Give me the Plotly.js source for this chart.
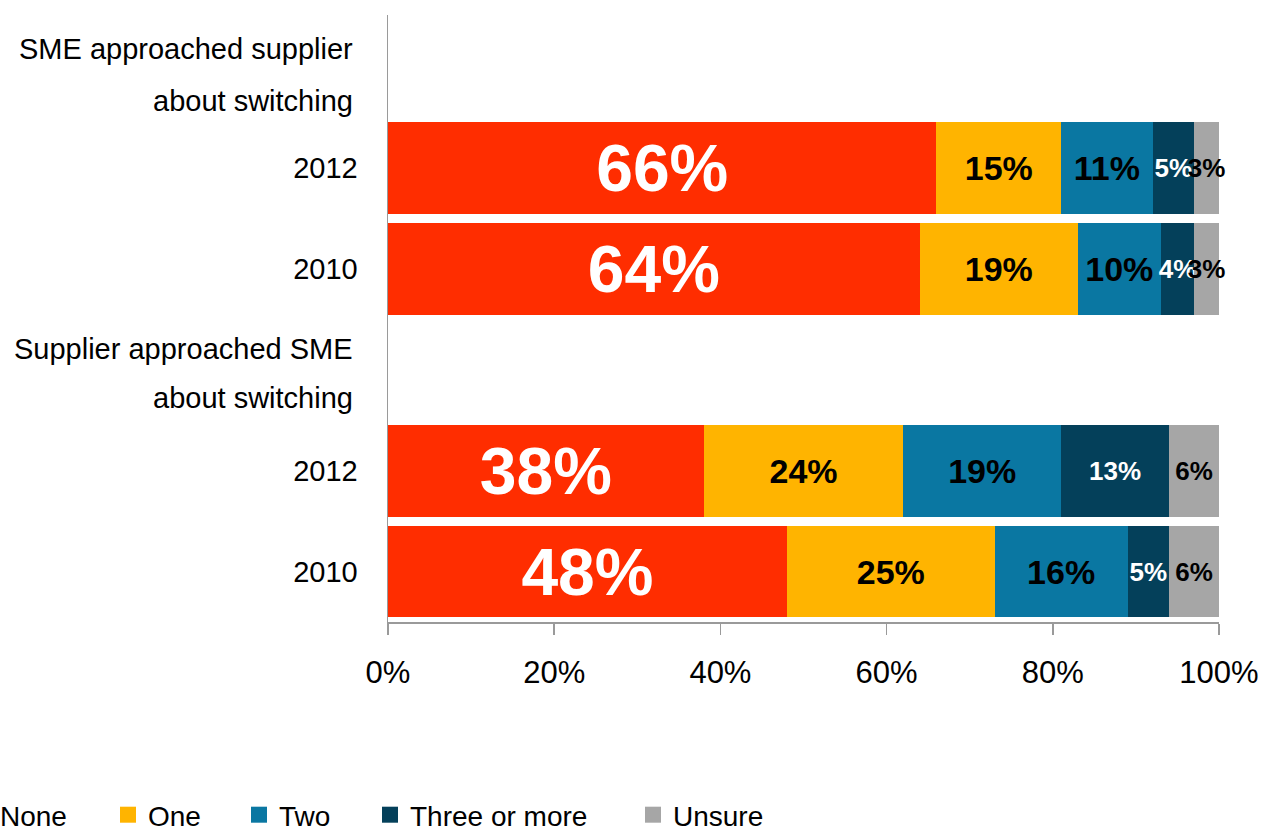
<!DOCTYPE html>
<html>
<head>
<meta charset="utf-8">
<script src="https://cdn.plot.ly/plotly-3.0.1.min.js"></script>
<style>
  html, body { margin: 0; padding: 0; background: #ffffff; }
  #chart { width: 1263px; height: 828px; }
</style>
</head>
<body>
<div id="chart"></div>
<script>
// ---- Data ----
const rowKeys = ["hdrA", "A2012", "A2010", "hdrB", "B2012", "B2010"];
const rowLabels = ["", "2012", "2010", "", "2012", "2010"];
const barRows = ["A2012", "A2010", "B2012", "B2010"];
const headerA = ["SME approached supplier", "about switching"];
const headerB = ["Supplier approached SME", "about switching"];

const seriesNames = ["None", "One", "Two", "Three or more", "Unsure"];
const noneVals   = [66, 64, 38, 48];
const oneVals    = [15, 19, 24, 25];
const twoVals    = [11, 10, 19, 16];
const threeVals  = [5, 4, 13, 5];
const unsureVals = [3, 3, 6, 6];

const xTickVals = [0, 20, 40, 60, 80, 100];
const xTickText = ["0%", "20%", "40%", "60%", "80%", "100%"];

// ---- Styles ----
const colors = ["#FF2D00", "#FFB400", "#0A77A2", "#04405A", "#A6A6A6"];
const labelColors = ["#ffffff", "#000000", "#000000", "#ffffff", "#000000"];
const labelSizes = [66, 34, 34, 26, 26];
const labelFont = "'Liberation Sans', Arial, sans-serif";
const allVals = [noneVals, oneVals, twoVals, threeVals, unsureVals];
const legendTextX = [0, 148, 279, 410, 673];

const plotLeft = 388, plotRight = 1219, plotTop = 15, plotBottom = 622;
const plotW = plotRight - plotLeft, plotH = plotBottom - plotTop;

const legendKey = i => (i === 0 ? "legend" : "legend" + (i + 1));

const barTraces = seriesNames.map((name, i) => ({
  type: "bar",
  orientation: "h",
  name: name,
  y: barRows,
  x: allVals[i],
  text: allVals[i].map(v => v + "%"),
  textposition: "inside",
  insidetextanchor: "middle",
  textangle: 0,
  constraintext: "none",
  cliponaxis: false,
  textfont: { family: labelFont, size: labelSizes[i], color: labelColors[i], weight: "bold" },
  marker: { color: colors[i], line: { width: 0 } },
  hoverinfo: "skip",
  showlegend: false,
  legendgroup: name
}));

// legend entries (square swatches, no plotted marks)
const legendTraces = seriesNames.map((name, i) => ({
  type: "scatter",
  mode: "markers",
  name: name,
  x: [null],
  y: [null],
  marker: { symbol: "square", size: 16, color: colors[i], line: { width: 0 } },
  hoverinfo: "skip",
  showlegend: true,
  legendgroup: name,
  legend: legendKey(i)
}));

const layout = {
  width: 1263,
  height: 828,
  margin: { l: plotLeft, r: 1263 - plotRight, t: plotTop, b: 828 - plotBottom, pad: 0, autoexpand: false },
  paper_bgcolor: "#ffffff",
  plot_bgcolor: "#ffffff",
  barmode: "stack",
  bargap: 0.09,
  font: { family: "'Liberation Sans', Arial, sans-serif", color: "#000000" },
  xaxis: {
    range: [0, 100],
    tickvals: xTickVals,
    ticktext: xTickText,
    ticks: "outside",
    ticklen: 11,
    tickcolor: "#9a9a9a",
    tickwidth: 1.5,
    showline: true,
    linecolor: "#9a9a9a",
    linewidth: 1.5,
    showgrid: false,
    zeroline: false,
    ticklabelstandoff: 11,
    automargin: false,
    tickfont: { size: 31, family: "'Liberation Sans', Arial, sans-serif", color: "#000000" },
    fixedrange: true
  },
  yaxis: {
    type: "category",
    categoryorder: "array",
    categoryarray: rowKeys,
    tickvals: rowKeys,
    ticktext: rowLabels,
    autorange: "reversed",
    showline: true,
    linecolor: "#9a9a9a",
    linewidth: 1.5,
    showgrid: false,
    zeroline: false,
    ticks: "",
    ticklabelstandoff: 23,
    automargin: false,
    tickfont: { size: 29, family: "'Liberation Sans', Arial, sans-serif", color: "#000000" },
    fixedrange: true
  },
  showlegend: true,
  annotations: [
    { text: headerA[0], y: "hdrA", yshift: 18 },
    { text: headerA[1], y: "hdrA", yshift: -34 },
    { text: headerB[0], y: "hdrB", yshift: 21 },
    { text: headerB[1], y: "hdrB", yshift: -28 }
  ].map(a => ({
    text: a.text,
    xref: "paper",
    x: (355 - plotLeft) / plotW,
    xanchor: "right",
    yref: "y",
    y: a.y,
    yshift: a.yshift,
    yanchor: "middle",
    showarrow: false,
    font: { size: 29, family: "'Liberation Sans', Arial, sans-serif", color: "#000000" }
  }))
};

seriesNames.forEach((n, i) => {
  layout[legendKey(i)] = {
    orientation: "h",
    xref: "paper",
    yref: "paper",
    x: (legendTextX[i] - 40 - plotLeft) / plotW,
    xanchor: "left",
    y: (plotBottom - 815) / plotH,
    yanchor: "middle",
    itemsizing: "trace",
    bgcolor: "rgba(0,0,0,0)",
    borderwidth: 0,
    font: { size: 28, family: "'Liberation Sans', Arial, sans-serif", color: "#000000" }
  };
});

Plotly.newPlot("chart", barTraces.concat(legendTraces), layout, { displayModeBar: false, staticPlot: true });
</script>
</body>
</html>
